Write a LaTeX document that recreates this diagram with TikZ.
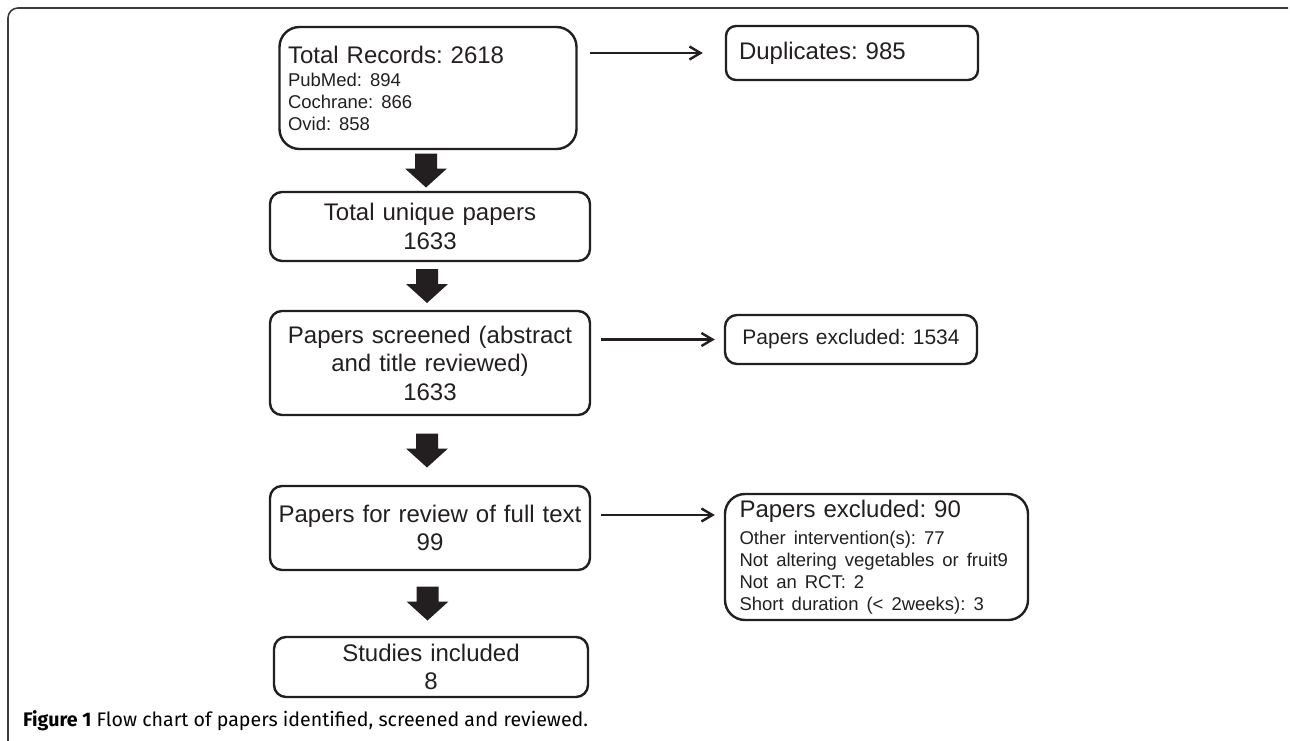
\documentclass[tikz,border=0pt]{standalone}
\usepackage{fontspec}
\setmainfont{Liberation Sans}
\newfontfamily\capfont{Fira Sans}
\usetikzlibrary{arrows.meta,calc}
\definecolor{ink}{HTML}{231F20}
\definecolor{framecol}{HTML}{3C3C3C}
\frenchspacing
\tikzset{
  fbox/.style={draw=ink, line width=2.4pt, rounded corners=12pt, inner sep=0pt,
    font=\fontsize{24}{28.5}\selectfont, text=ink, align=center},
  harrow/.style={draw=ink, line width=2.2pt, -{Straight Barb[length=11pt,width=13pt,line width=2.4pt]}},
}
\newcommand\smalltxt{\fontsize{18.5}{22}\selectfont}
\newcommand\blockarr[2]{\fill[ink] ($(#1.south)!0.5!(#2.north)$) ++(-14,-17) -- ++(22,0) -- ++(0,15) -- ++(10,0) -- ++(-21,19) -- ++(-21,-19) -- ++(10,0) -- cycle;}
\begin{document}
\begin{tikzpicture}[x=1pt,y=-1pt]
\useasboundingbox (0,0) rectangle (1290,741);
% frame
\draw[framecol, line width=1.6pt, rounded corners=10pt] (8,745) -- (8,8) -- (1288,8);
% boxes
\node[fbox, rounded corners=20pt, minimum width=297pt, minimum height=122pt, text width=280pt, align=left] (rec) at (428,88)
  {Total Records: 2618\\[1pt]\smalltxt PubMed: 894\\Cochrane: 866\\Ovid: 858\par};
\node[fbox, rounded corners=10pt, minimum width=252pt, minimum height=54pt, text width=226pt, align=left] (dup) at (852,53)
  {Duplicates: 985};
\node[fbox, minimum width=320pt, minimum height=69pt, text width=314pt] (uniq) at (430,226.5)
  {Total unique papers\\1633};
\node[fbox, minimum width=320pt, minimum height=104pt, text width=314pt] (scr) at (430,363)
  {Papers screened (abstract\\and title reviewed)\\1633};
\node[fbox, minimum width=252pt, minimum height=49pt, text width=250pt, font=\fontsize{21}{25}\selectfont] (ex1) at (851,339.5)
  {Papers excluded: 1534};
\node[fbox, minimum width=320pt, minimum height=84pt, text width=314pt] (full) at (430,528)
  {Papers for review of full text\\99};
\node[fbox, rounded corners=20pt, minimum width=303pt, minimum height=126pt, text width=274pt, align=left] (ex2) at (876.5,557)
  {Papers excluded: 90\\[5pt]\smalltxt Other intervention(s): 77\\Not altering vegetables or fruit9\\Not an RCT: 2\\Short duration (< 2weeks): 3\par};
\node[fbox, minimum width=314pt, minimum height=60pt, text width=308pt] (incl) at (431,667)
  {Studies included\\8};
% block arrows
\blockarr{rec}{uniq}
\blockarr{uniq}{scr}
\blockarr{scr}{full}
\blockarr{full}{incl}
% horizontal arrows
\draw[harrow, shorten <=12pt, shorten >=22pt] (rec.east |- dup.west) -- (dup.west);
\draw[harrow, shorten <=10pt, shorten >=9pt] (scr.east |- ex1.west) -- (ex1.west);
\draw[harrow, shorten <=10pt, shorten >=9pt] ([yshift=13pt]full.east) -- ([yshift=13pt]full.east -| ex2.west);
% caption
\node[anchor=base west, inner sep=0pt, font=\capfont\fontsize{19.6}{22}\selectfont] (cap) at (23,726)
  {\textbf{Figure 1} Flow chart of papers identified, screened and reviewed.};
\end{tikzpicture}
\end{document}
